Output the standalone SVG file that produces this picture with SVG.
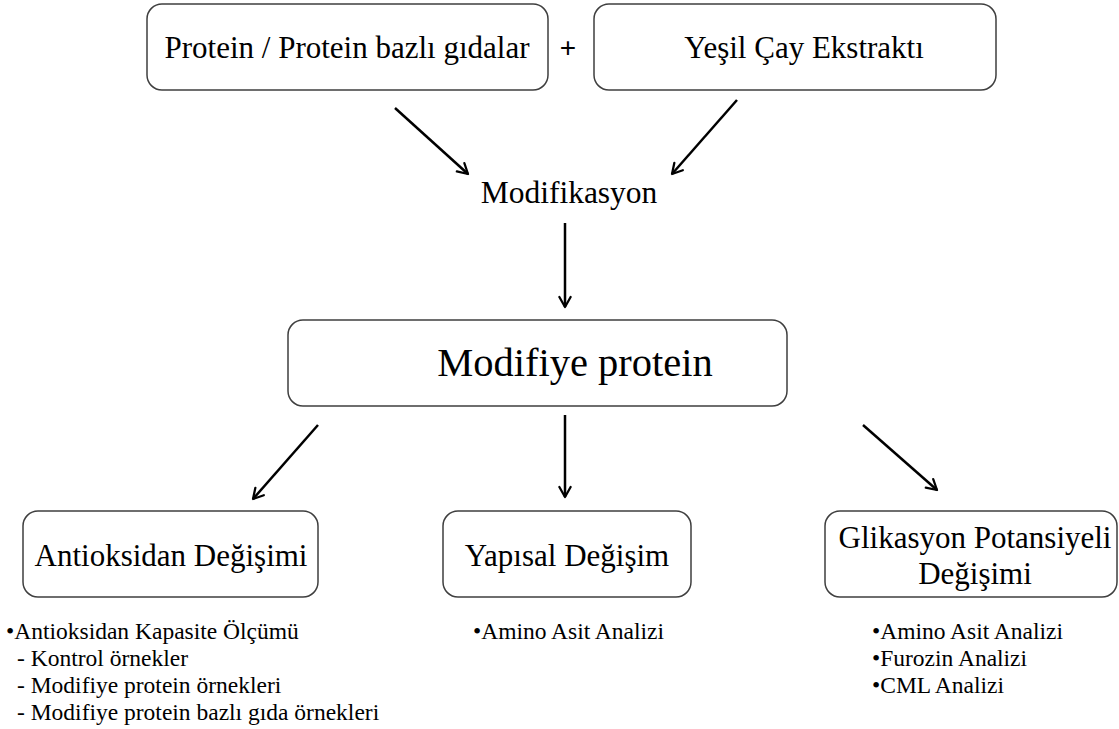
<svg xmlns="http://www.w3.org/2000/svg" width="1119" height="729" viewBox="0 0 1119 729">
<style>
.box{fill:#fff;stroke:#3f3f3f;stroke-width:1.5}
.t{font-family:"Liberation Serif","Times New Roman",serif;fill:#000}
.m{font-size:31px}
.s{font-size:23.5px}
.arr{stroke:#000;stroke-width:2.5;fill:none;marker-end:url(#ah)}
</style>
<defs>
<marker id="ah" viewBox="0 0 12 12" refX="10" refY="6" markerWidth="6" markerHeight="6" orient="auto" markerUnits="strokeWidth">
<path d="M2,1.5 L10,6 L2,10.5" fill="none" stroke="#000" stroke-width="1.8" stroke-linecap="round" stroke-linejoin="round"/>
</marker>
</defs>
<rect width="1119" height="729" fill="#fff"/>
<g id="node-protein">
<rect class="box" x="147" y="4" width="401" height="86" rx="15"/>
<text class="t m" x="347" y="58" text-anchor="middle">Protein / Protein bazlı gıdalar</text>
</g>
<g id="plus">
<text x="568" y="57" text-anchor="middle" style="font-family:'Liberation Sans',Arial,sans-serif;font-size:28px">+</text>
</g>
<g id="node-cay">
<rect class="box" x="594" y="4" width="402" height="86" rx="15"/>
<text class="t m" x="804" y="58" text-anchor="middle">Yeşil Çay Ekstraktı</text>
</g>
<g id="node-modifikasyon">
<text class="t" x="569" y="203" text-anchor="middle" font-size="31.5">Modifikasyon</text>
</g>
<g id="node-modifiye">
<rect class="box" x="288" y="320" width="499" height="86" rx="15"/>
<text class="t" x="575" y="376" text-anchor="middle" font-size="40.5">Modifiye protein</text>
</g>
<g id="node-antioksidan">
<rect class="box" x="23" y="511" width="295" height="86" rx="15"/>
<text class="t m" x="171" y="566" text-anchor="middle">Antioksidan Değişimi</text>
<text class="t s" x="6" y="639">•Antioksidan Kapasite Ölçümü</text>
<text class="t s" x="17" y="666">- Kontrol örnekler</text>
<text class="t s" x="17" y="693">- Modifiye protein örnekleri</text>
<text class="t s" x="17" y="720">- Modifiye protein bazlı gıda örnekleri</text>
</g>
<g id="node-yapisal">
<rect class="box" x="443" y="511" width="248" height="86" rx="15"/>
<text class="t m" x="567" y="566" text-anchor="middle">Yapısal Değişim</text>
<text class="t s" x="473" y="639">•Amino Asit Analizi</text>
</g>
<g id="node-glikasyon">
<rect class="box" x="825" y="511" width="292" height="86" rx="15"/>
<text class="t m" x="975" y="548" text-anchor="middle">Glikasyon Potansiyeli</text>
<text class="t m" x="975" y="584" text-anchor="middle">Değişimi</text>
<text class="t s" x="872" y="639">•Amino Asit Analizi</text>
<text class="t s" x="872" y="666">•Furozin Analizi</text>
<text class="t s" x="872" y="693">•CML Analizi</text>
</g>
<g id="connectors">
<line class="arr" x1="395" y1="108" x2="468" y2="174"/>
<line class="arr" x1="737" y1="100" x2="672" y2="174"/>
<line class="arr" x1="565" y1="223" x2="565" y2="307"/>
<line class="arr" x1="318" y1="425" x2="253" y2="499"/>
<line class="arr" x1="565" y1="415" x2="565" y2="497"/>
<line class="arr" x1="863" y1="425" x2="937" y2="490"/>
</g>
</svg>
